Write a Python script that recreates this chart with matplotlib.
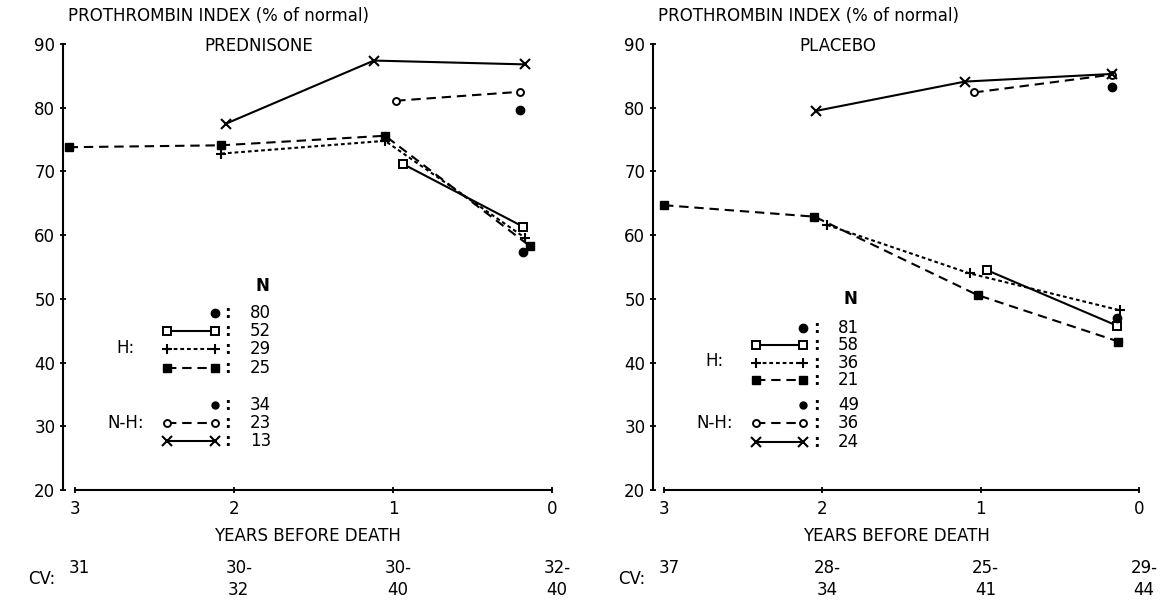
import matplotlib
matplotlib.use("Agg")
import matplotlib.pyplot as plt

plt.rcParams['font.family'] = ['DejaVu Sans']

# ---------------- data ----------------
years_ticks = [3, 2, 1, 0]
y_ticks = [20, 30, 40, 50, 60, 70, 80, 90]

# PREDNISONE panel
pred_h_fsq_x = [3.04, 2.08, 1.05, 0.14]
pred_h_fsq_y = [73.8, 74.1, 75.6, 58.3]
pred_h_plus_x = [2.08, 1.05, 0.17]
pred_h_plus_y = [72.8, 74.8, 59.6]
pred_h_osq_x = [0.94, 0.18]
pred_h_osq_y = [71.2, 61.3]
pred_h_dot_x = [0.18]
pred_h_dot_y = [57.3]
pred_nh_dot_x = [0.2]
pred_nh_dot_y = [79.6]
pred_nh_circ_x = [0.98, 0.2]
pred_nh_circ_y = [81.1, 82.5]
pred_nh_cross_x = [2.05, 1.12, 0.17]
pred_nh_cross_y = [77.5, 87.4, 86.8]
pred_n = ["80", "52", "29", "25", "34", "23", "13"]
pred_cv_top = ["31", "30-", "30-", "32-"]
pred_cv_bot = ["", "32", "40", "40"]

# PLACEBO panel
plac_h_fsq_x = [3.0, 2.05, 1.02, 0.13]
plac_h_fsq_y = [64.7, 62.9, 50.6, 43.3]
plac_h_plus_x = [1.97, 1.07, 0.12]
plac_h_plus_y = [61.6, 54.0, 48.2]
plac_h_osq_x = [0.96, 0.14]
plac_h_osq_y = [54.5, 45.8]
plac_h_dot_x = [0.14]
plac_h_dot_y = [47.0]
plac_nh_dot_x = [0.17]
plac_nh_dot_y = [83.3]
plac_nh_circ_x = [1.04, 0.17]
plac_nh_circ_y = [82.4, 85.2]
plac_nh_cross_x = [2.04, 1.1, 0.17]
plac_nh_cross_y = [79.5, 84.1, 85.3]
plac_n = ["81", "58", "36", "21", "49", "36", "24"]
plac_cv_top = ["37", "28-", "25-", "29-"]
plac_cv_bot = ["", "34", "41", "44"]

# ---------------- styles ----------------
FS = 12
LW = 1.5
DASH = (0, (4.5, 2.8))
FINE = (0, (1.8, 1.4))
STY = {
    'fsq':   dict(color='black', lw=LW, ls=DASH, marker='s', ms=6, mfc='black', mec='black'),
    'plus':  dict(color='black', lw=LW, ls=FINE, marker='+', ms=7, mew=1.5),
    'osq':   dict(color='black', lw=LW, ls='-', marker='s', ms=6, mfc='white', mec='black', mew=1.4),
    'dot':   dict(color='black', ls='none', marker='o', ms=6, mfc='black', mec='black'),
    'circ':  dict(color='black', lw=LW, ls=DASH, marker='o', ms=5, mfc='white', mec='black', mew=1.4),
    'cross': dict(color='black', lw=LW, ls='-', marker='x', ms=7, mew=1.5),
}
LEG_DOT_SMALL = dict(STY['dot'], ms=5)

fig = plt.figure(figsize=(11.63, 6.02), dpi=100)

W, H = 1163.0, 602.0
def axes_rect(spine_px, zero_px, y20_px, y90_px):
    return [spine_px / W, 1 - y20_px / H, (zero_px - spine_px) / W, (y20_px - y90_px) / H]

panels = [
    dict(rect=axes_rect(63, 552, 490, 44), three_px=75, name="PREDNISONE", name_x=0.40,
         series=[('fsq', pred_h_fsq_x, pred_h_fsq_y), ('plus', pred_h_plus_x, pred_h_plus_y),
                 ('osq', pred_h_osq_x, pred_h_osq_y), ('dot', pred_h_dot_x, pred_h_dot_y),
                 ('dot', pred_nh_dot_x, pred_nh_dot_y), ('circ', pred_nh_circ_x, pred_nh_circ_y),
                 ('cross', pred_nh_cross_x, pred_nh_cross_y)],
         n=pred_n, cvt=pred_cv_top, cvb=pred_cv_bot, leg_rows=[47.8, 45.0, 42.2, 39.2, 33.4, 30.5, 27.7],
         leg_n=52.0),
    dict(rect=axes_rect(653, 1139, 490, 44), three_px=664, name="PLACEBO", name_x=0.38,
         series=[('fsq', plac_h_fsq_x, plac_h_fsq_y), ('plus', plac_h_plus_x, plac_h_plus_y),
                 ('osq', plac_h_osq_x, plac_h_osq_y), ('dot', plac_h_dot_x, plac_h_dot_y),
                 ('dot', plac_nh_dot_x, plac_nh_dot_y), ('circ', plac_nh_circ_x, plac_nh_circ_y),
                 ('cross', plac_nh_cross_x, plac_nh_cross_y)],
         n=plac_n, cvt=plac_cv_top, cvb=plac_cv_bot, leg_rows=[45.5, 42.8, 40.0, 37.3, 33.4, 30.5, 27.5],
         leg_n=50.0),
]

for p in panels:
    ax = fig.add_axes(p['rect'])
    spine_px = p['rect'][0] * W
    zero_px = spine_px + p['rect'][2] * W
    per_year = (zero_px - p['three_px']) / 3.0
    left_lim = 3 + (p['three_px'] - spine_px) / per_year
    ax.set_xlim(left_lim, 0)
    ax.set_ylim(20, 90)
    for s in ['top', 'right']:
        ax.spines[s].set_visible(False)
    ax.spines['left'].set_linewidth(1.5)
    ax.spines['bottom'].set_linewidth(1.5)
    ax.spines['bottom'].set_bounds(0, 3)
    ax.set_xticks(years_ticks)
    ax.set_xticklabels([str(t) for t in years_ticks], fontsize=FS)
    ax.set_yticks(y_ticks)
    ax.set_yticklabels([str(t) for t in y_ticks], fontsize=FS)
    ax.tick_params(axis='both', direction='inout', length=5, width=1.3)
    ax.tick_params(axis='x', pad=5)
    ax.tick_params(axis='y', pad=3)
    ax.patch.set_alpha(0)

    for kind, xs, ys in p['series']:
        ax.plot(xs, ys, clip_on=False, zorder=3, **STY[kind])

    ax.set_xlabel("YEARS BEFORE DEATH", fontsize=FS, labelpad=6)
    ax.text(0.01, 1.042, "PROTHROMBIN INDEX (% of normal)", transform=ax.transAxes,
            fontsize=FS, ha='left', va='bottom')
    ax.text(p['name_x'], 0.995, p['name'], transform=ax.transAxes, fontsize=FS, ha='center', va='center')

    # hand-made legend (layout positions in data units)
    rows = p['leg_rows']
    kinds = ['dot', 'osq', 'plus', 'fsq', 'dot', 'circ', 'cross']
    x_num, x_colon, x_r, x_l, x_grp = 1.90, 2.04, 2.12, 2.42, 2.68
    ax.text(1.82, p['leg_n'], "N", fontsize=FS, ha='center', va='center', fontweight='bold')
    for i, (k, yv, nv) in enumerate(zip(kinds, rows, p['n'])):
        if k == 'dot':
            st = STY['dot'] if i == 0 else LEG_DOT_SMALL
            ax.plot([x_r], [yv], clip_on=False, **st)
        else:
            ax.plot([x_l, x_r], [yv, yv], clip_on=False, **STY[k])
        ax.text(x_colon, yv, ":", fontsize=FS, ha='center', va='center', fontweight='bold')
        ax.text(x_num, yv, nv, fontsize=FS, ha='left', va='center')
    ax.text(x_grp, (rows[1] + rows[3]) / 2 + 0.2, "H:", fontsize=FS, ha='center', va='center')
    ax.text(x_grp, rows[5], "N-H:", fontsize=FS, ha='center', va='center')

    # CV row under each year tick
    tr = ax.get_xaxis_transform()
    for t, top, bot in zip(years_ticks, p['cvt'], p['cvb']):
        ax.text(t - 0.03, -0.175, top, transform=tr, fontsize=FS, ha='center', va='center')
        if bot:
            ax.text(t - 0.03, -0.225, bot, transform=tr, fontsize=FS, ha='center', va='center')
    ax.text(left_lim + 0.05, -0.2, "CV:", transform=tr, fontsize=FS, ha='right', va='center')

fig.savefig("out.png", dpi=100)
